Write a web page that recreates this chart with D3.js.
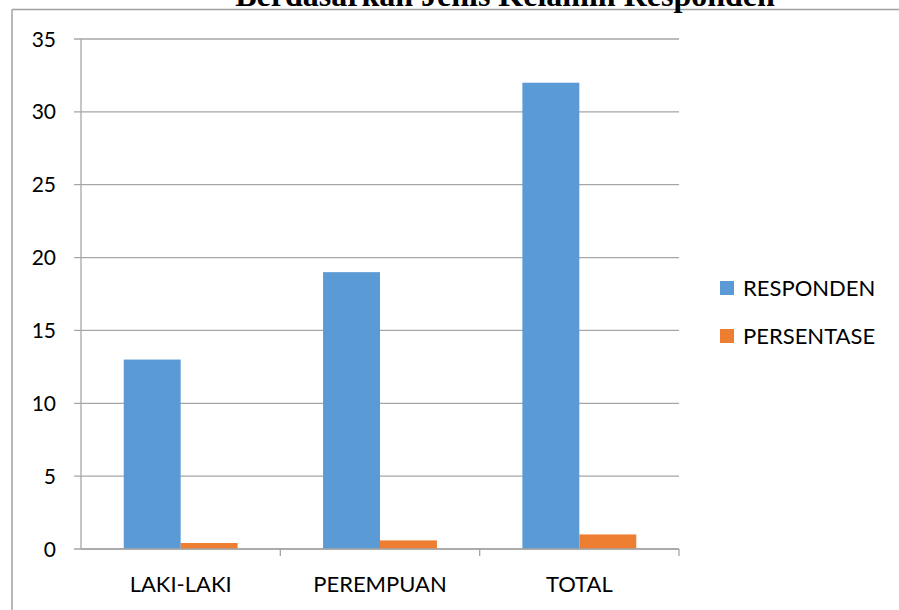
<!DOCTYPE html>
<html>
<head>
<meta charset="utf-8">
<script src="https://cdn.jsdelivr.net/npm/d3@7"></script>
<style>
  body { margin: 0; background: #fff; }
  svg { display: block; }
</style>
</head>
<body>
<div id="chart"></div>
<script>
// data
const categories = ['LAKI-LAKI', 'PEREMPUAN', 'TOTAL'];
const seriesNames = ['RESPONDEN', 'PERSENTASE'];
const responden = [13, 19, 32];
const persentase = [0.41, 0.59, 1];
const yTicks = [0, 5, 10, 15, 20, 25, 30, 35];

const colours = { RESPONDEN: '#5b9bd5', PERSENTASE: '#ed7d31' };

const width = 899, height = 610;
const margin = { top: 39, left: 81, right: 220, bottom: 61 };
const font = 'Lato, "Open Sans", sans-serif';

const svg = d3.select('#chart')
  .append('svg')
  .attr('width', width)
  .attr('height', height);

// frame (only top and left edges are inside the picture)
svg.append('line')
  .attr('x1', 12).attr('x2', width).attr('y1', 9.5).attr('y2', 9.5)
  .attr('stroke', '#a0a0a0').attr('stroke-width', 1.5);
svg.append('line')
  .attr('x1', 12).attr('x2', 12).attr('y1', 9.5).attr('y2', height)
  .attr('stroke', '#a0a0a0').attr('stroke-width', 1.5);

// title, mostly cut off above the frame
svg.append('text')
  .attr('x', 505).attr('y', 6)
  .attr('text-anchor', 'middle')
  .style('font-family', '"Liberation Serif", "Times New Roman", serif')
  .style('font-weight', 'bold')
  .style('font-size', '32px')
  .text('Berdasarkan Jenis Kelamin Responden');

const x0 = d3.scaleBand()
  .domain(categories)
  .range([margin.left, 679])
  .paddingInner(0)
  .paddingOuter(0);

const x1 = d3.scaleBand()
  .domain(seriesNames)
  .range([0, x0.bandwidth()])
  .paddingInner(0)
  .paddingOuter(0.75);

const y = d3.scaleLinear()
  .domain([0, 35])
  .range([549, margin.top]);

// gridlines
svg.append('g')
  .selectAll('line')
  .data(yTicks)
  .join('line')
  .attr('x1', margin.left - 7)
  .attr('x2', 679)
  .attr('y1', d => y(d))
  .attr('y2', d => y(d))
  .attr('stroke', '#a6a6a6')
  .attr('stroke-width', 1.3);

// y tick labels
svg.append('g')
  .selectAll('text')
  .data(yTicks)
  .join('text')
  .attr('x', 56)
  .attr('y', d => y(d))
  .attr('dy', '0.36em')
  .attr('text-anchor', 'end')
  .style('font-family', font)
  .style('font-size', '21px')
  .text(d => d);

// bars
const rows = categories.map((c, i) => ({ cat: c, values: [
  { name: 'RESPONDEN', value: responden[i] },
  { name: 'PERSENTASE', value: persentase[i] }
] }));

svg.append('g')
  .selectAll('g')
  .data(rows)
  .join('g')
  .attr('transform', d => 'translate(' + x0(d.cat) + ',0)')
  .selectAll('rect')
  .data(d => d.values)
  .join('rect')
  .attr('x', d => x1(d.name))
  .attr('width', x1.bandwidth())
  .attr('y', d => y(d.value))
  .attr('height', d => y(0) - y(d.value))
  .attr('fill', d => colours[d.name]);

// y axis line
svg.append('line')
  .attr('x1', margin.left).attr('x2', margin.left)
  .attr('y1', y(35)).attr('y2', y(0))
  .attr('stroke', '#a6a6a6').attr('stroke-width', 1.3);

// x axis
const xAxis = svg.append('g')
  .attr('transform', 'translate(0,' + y(0) + ')')
  .call(d3.axisBottom(x0).tickSize(0).tickPadding(0));
xAxis.select('.domain').remove();
xAxis.selectAll('text')
  .attr('y', 43)
  .attr('dy', 0)
  .attr('fill', '#000')
  .style('font-family', font)
  .style('font-size', '22px');

svg.append('line')
  .attr('x1', margin.left).attr('x2', 679)
  .attr('y1', y(0)).attr('y2', y(0))
  .attr('stroke', '#a6a6a6').attr('stroke-width', 1.3);

// category boundary ticks
svg.append('g')
  .selectAll('line')
  .data(categories)
  .join('line')
  .attr('x1', d => x0(d) + x0.bandwidth())
  .attr('x2', d => x0(d) + x0.bandwidth())
  .attr('y1', y(0))
  .attr('y2', y(0) + 7)
  .attr('stroke', '#a6a6a6')
  .attr('stroke-width', 1.3);

// legend
const legend = svg.append('g')
  .selectAll('g')
  .data(seriesNames)
  .join('g')
  .attr('transform', (d, i) => 'translate(720,' + (281 + i * 48) + ')');

legend.append('rect')
  .attr('width', 14)
  .attr('height', 14)
  .attr('fill', d => colours[d]);

legend.append('text')
  .attr('x', 23)
  .attr('y', 7)
  .attr('dy', '0.36em')
  .style('font-family', font)
  .style('font-size', '22px')
  .text(d => d);
</script>
</body>
</html>
